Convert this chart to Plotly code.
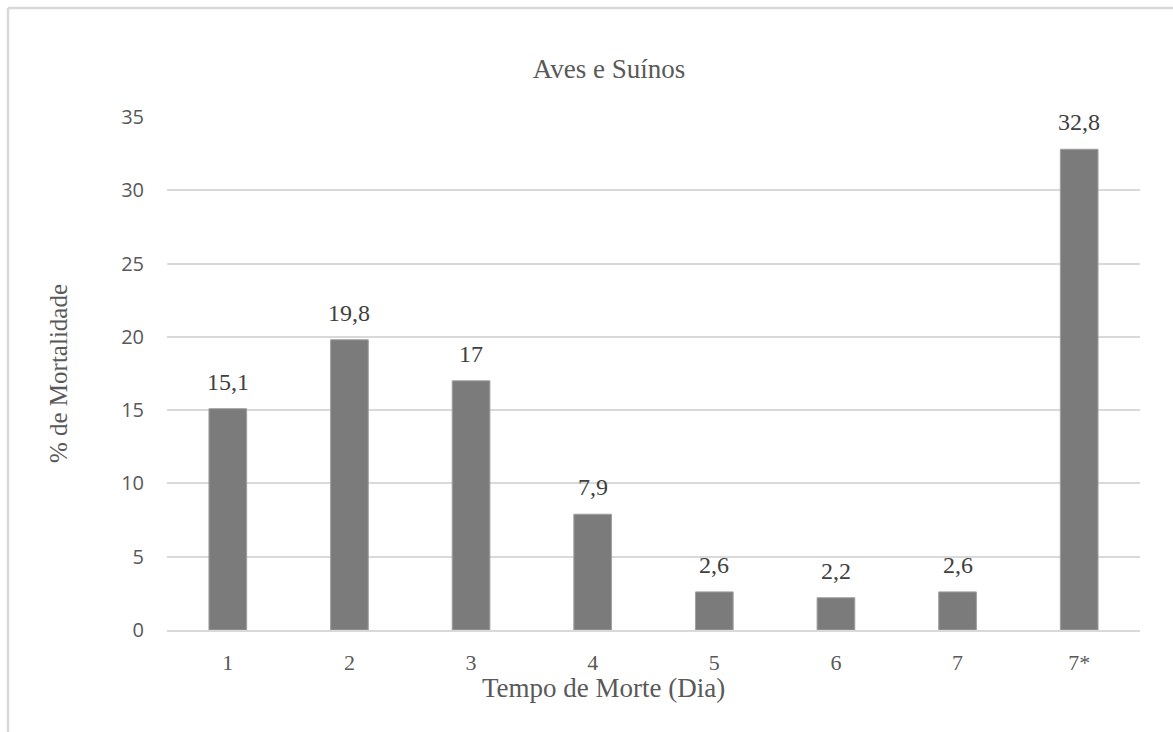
import plotly.graph_objects as go

# Mortality by time of death (day)
categories = ["1", "2", "3", "4", "5", "6", "7", "7*"]
mortality = [15.1, 19.8, 17.0, 7.9, 2.6, 2.2, 2.6, 32.8]
value_labels = ["15,1", "19,8", "17", "7,9", "2,6", "2,2", "2,6", "32,8"]
y_ticks = [0, 5, 10, 15, 20, 25, 30, 35]

W, H = 1173, 732
ML, MR, MT, MB = 167, 33, 117, 102
plot_w = W - ML - MR
plot_h = H - MT - MB

serif = "Liberation Serif"
sans = "Open Sans"


def px_x(p):
    return (p - ML) / plot_w


def px_y(p):
    return (H - MB - p) / plot_h


fig = go.Figure()
fig.add_trace(go.Bar(
    x=categories,
    y=mortality,
    marker=dict(color="#7b7b7b", line=dict(color="#a0a0a0", width=1)),
    hoverinfo="skip",
))

# value labels above each bar (category positions by index)
annotations = [
    dict(x=i, y=v, xref="x", yref="y", text=t, showarrow=False,
         yanchor="bottom", yshift=12,
         font=dict(family=serif, size=24, color="#404040"))
    for i, (v, t) in enumerate(zip(mortality, value_labels))
]

# x-axis title, centred on the chart area rather than the plot area
annotations.append(dict(
    x=px_x(603), y=px_y(688), xref="paper", yref="paper",
    xanchor="center", yanchor="middle", showarrow=False,
    text="Tempo de Morte (Dia)",
    font=dict(family=serif, size=27, color="#595959"),
))

# chart outline (extends past the right and bottom edges)
shapes = [
    dict(type="line", xref="paper", yref="paper",
         x0=px_x(8), x1=px_x(1180), y0=px_y(8), y1=px_y(8),
         line=dict(color="#d9d9d9", width=2.5)),
    dict(type="line", xref="paper", yref="paper",
         x0=px_x(8), x1=px_x(8), y0=px_y(8), y1=px_y(740),
         line=dict(color="#d9d9d9", width=2.5)),
]

fig.update_layout(
    width=W, height=H,
    margin=dict(l=ML, r=MR, t=MT, b=MB),
    paper_bgcolor="white",
    plot_bgcolor="white",
    showlegend=False,
    bargap=0.69,
    title=dict(text="Aves e Suínos", x=(609 / W), xanchor="center",
               y=1 - 69 / H, yanchor="middle",
               font=dict(family=serif, size=27, color="#595959")),
    annotations=annotations,
    shapes=shapes,
    xaxis=dict(
        type="category",
        showgrid=False,
        showline=True, linecolor="#d9d9d9", linewidth=2,
        tickfont=dict(family=serif, size=22, color="#595959"),
        ticks="", ticklabelstandoff=12,
    ),
    yaxis=dict(
        range=[0, 35],
        tickvals=y_ticks,
        showgrid=True, gridcolor="#d9d9d9", gridwidth=1.5,
        zeroline=False,
        showline=False,
        tickfont=dict(family=sans, size=20, color="#595959"),
        ticks="", ticklabelstandoff=22,
        title=dict(text="% de Mortalidade", standoff=46,
                   font=dict(family=serif, size=25, color="#595959")),
    ),
)

fig.write_html("out.html")
